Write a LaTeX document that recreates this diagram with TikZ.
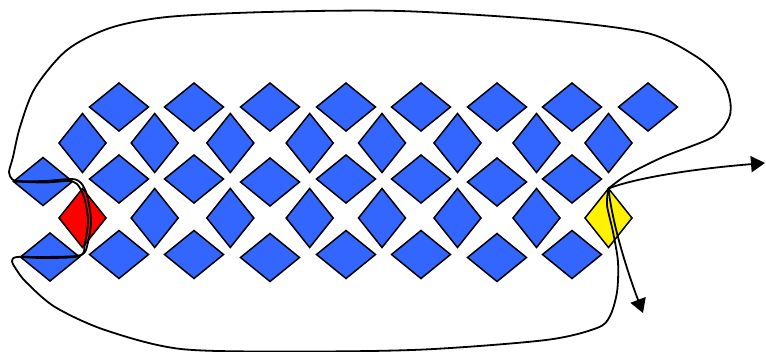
\documentclass[tikz,border=0pt]{standalone}
\usetikzlibrary{shapes.geometric,arrows.meta}
\definecolor{dblue}{HTML}{3366FF}
\begin{document}
\begin{tikzpicture}[x=1pt,y=-1pt,
  hd/.style={diamond, draw=black, line width=1.5pt, fill=dblue, minimum width=59pt, minimum height=48pt, inner sep=0pt, outer sep=0pt},
  vd/.style={hd, minimum width=47pt, minimum height=59pt},
  edge/.style={line width=1.8pt, line join=round, line cap=round},
  tip/.style={-{Triangle[length=14pt,width=16pt]}}]
\useasboundingbox (0,0) rectangle (766,351);
% row 1
\foreach \x [count=\i] in {119,194,270,346,421,497,572,648}
  \node[hd] (a\i) at (\x,107) {};
% row 2
\foreach \x [count=\i] in {82.5,154.7,230.3,309.7,382,457.5,536.5,608.5}
  \node[vd] (b\i) at (\x,143) {};
% row 3
\node[hd] (c0) at (43,181.5) {};
\foreach \x/\y [count=\i] in {119/179,194/179,270/182,346/179,421/179,497/182,572/179}
  \node[hd] (c\i) at (\x,\y) {};
% row 4
\node[vd, fill=red] (d1) at (82.5,218) {};
\foreach \x [count=\i from 2] in {154.7,230.3,309.7,382,457.5,536.5}
  \node[vd] (d\i) at (\x,218) {};
\node[vd, fill=yellow] (d8) at (608.5,218) {};
% row 5
\node[hd] (e0) at (50,257) {};
\foreach \x/\y [count=\i] in {119/254.5,194/254.5,270/257.5,346/254.5,421/254.5,497/257.5,572/254.5}
  \node[hd] (e\i) at (\x,\y) {};
% free ends
\coordinate (tipR) at (765,163);
\coordinate (tipD) at (643,313);
% big loop
\draw[edge] plot[smooth, tension=0.5] coordinates {
  (d8.north) (627,175) (663,157) (713,137) (729,118) (730,100) (722,80)
  (697,57) (647,33) (547,20) (400,11) (267,12) (167,17) (110,28) (67,50)
  (35,88) (20,127) (13,157) (9,172) (12,179) (18,181) (45,181) (72,179)
  (81,183) (87,195) (91,220) (88,242) (81,255) (45,257) (17,257) (12,261)
  (16,269) (26,282) (55,307) (105,330) (181,349) (300,351.5) (424,349.5)
  (546,340) (597,328) (610,316) (617,292) (618,262) (613,232) (607,205) (d8.north)};
% inner strand through the red diamond
\draw[edge] plot[smooth, tension=0.5] coordinates {
  (c0.west) (45,182.5) (68,181) (77,184) (84,197) (88,220) (85,243) (80,256) (45,258) (e0.west)};
% arrows
\draw[edge, tip] (d8.north) .. controls (630,180) and (680,170) .. (tipR);
\draw[edge, tip] (d8.north) .. controls (612,222) and (626,268) .. (tipD);
\end{tikzpicture}
\end{document}
